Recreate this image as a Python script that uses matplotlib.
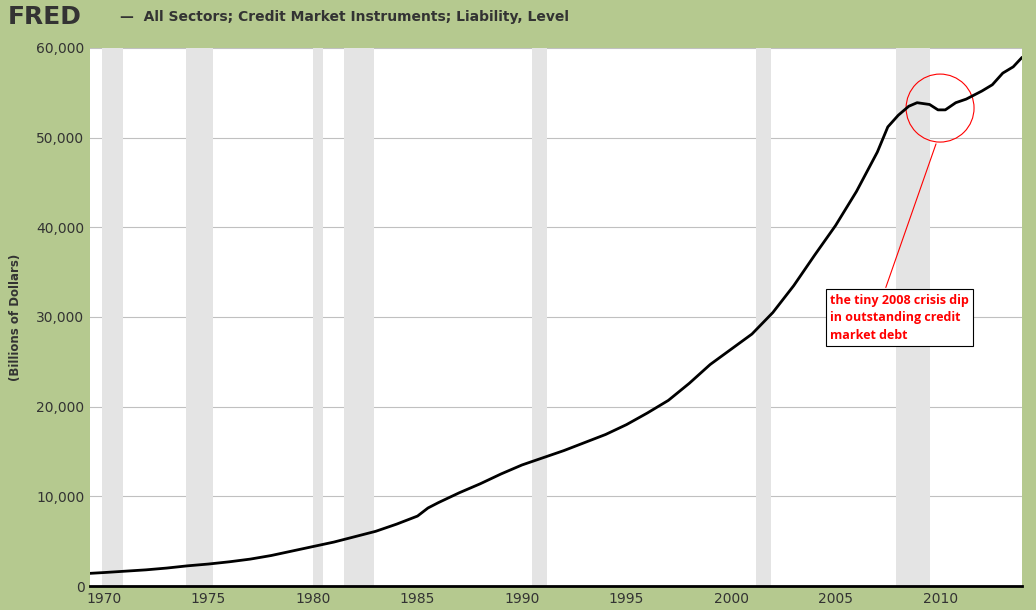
import matplotlib
matplotlib.use("Agg")
import matplotlib.pyplot as plt
from matplotlib.patches import Ellipse
import numpy as np

years = [1969.25,1970,1971,1972,1973,1974,1975,1976,1977,1978,1979,1980,1981,1982,1983,1984,1985,1985.5,1986,1987,1988,1989,1990,1991,1992,1993,1994,1995,1996,1997,1998,1999,2000,2001,2002,2003,2004,2005,2006,2007,2007.5,2008,2008.5,2008.9,2009.5,2009.9,2010.25,2010.75,2011.25,2012,2012.5,2013,2013.5,2013.9]
values = [1400,1500,1650,1800,2000,2250,2450,2700,3000,3400,3900,4400,4900,5500,6100,6900,7800,8700,9300,10400,11400,12500,13500,14300,15100,16000,16900,18000,19300,20700,22600,24700,26400,28100,30500,33500,36900,40200,44000,48400,51200,52500,53500,53900,53700,53100,53100,53900,54300,55200,55900,57200,57900,58900]
recessions = [(1969.9,1970.9),(1973.9,1975.2),(1980.0,1980.5),(1981.5,1982.9),(1990.5,1991.2),(2001.2,2001.9),(2007.9,2009.5)]

bg = '#b5c98f'
fig = plt.figure(figsize=(10.36,6.10), dpi=100, facecolor=bg)
ax = fig.add_axes([90/1036, 1-586/610, 932/1036, 538/610])
for a,b in recessions:
    ax.axvspan(a,b,color='#e4e4e4',lw=0)
ax.plot(years, values, color='black', lw=2)
ax.set_xlim(1969.33, 2013.92)
ax.set_ylim(0,60000)
ax.set_yticks(range(0,60001,10000))
ax.set_yticklabels([f"{v:,}" for v in range(0,60001,10000)])
ax.set_xticks(range(1970,2011,5))
ax.grid(axis='y', color='#c0c0c0', lw=0.8)
ax.set_axisbelow(True)
for s in ['top','right','left']:
    ax.spines[s].set_visible(False)
ax.spines['bottom'].set_linewidth(2)
ax.tick_params(axis='both', length=0, labelsize=10, colors='#333333', pad=4)
ax.set_ylabel('(Billions of Dollars)', fontsize=8.5, fontweight='bold', color='#333333', labelpad=10)
# annotation
e = Ellipse((2010.0, 53300), width=68/20.92, height=68*60000/538, fill=False, ec='red', lw=0.8)
ax.add_patch(e)
ax.annotate('', xy=(2009.85, 49600), xytext=(2007.36, 33000),
            arrowprops=dict(arrowstyle='-', color='red', lw=0.8))
ax.text(2004.75, 32600, 'the tiny 2008 crisis dip\nin outstanding credit\nmarket debt', color='red',
        fontsize=9, fontweight='bold', va='top', ha='left', linespacing=1.45,
        family='Open Sans',
        bbox=dict(boxstyle='square,pad=0.35', fc='white', ec='black', lw=0.8))
fig.text(8/1036, 1-17/610, 'FRED', fontsize=18, fontweight='bold', color='#333333', va='center')
fig.text(120/1036, 1-17/610, '—  All Sectors; Credit Market Instruments; Liability, Level', fontsize=10,
         fontweight='bold', color='#333333', va='center')
fig.savefig('out.png', dpi=100, facecolor=bg)
